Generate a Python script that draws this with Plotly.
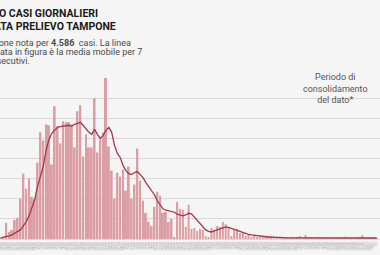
import plotly.graph_objects as go
import pandas as pd

# ---- data ----
dates = pd.date_range("2020-02-24", periods=133, freq="D")
date_labels = [d.strftime("%d/%m") for d in dates]

daily_cases = [
    3, 10, 80, 35, 45, 95, 105, 200, 325, 250,
    300, 210, 200, 380, 530, 490, 570, 565, 370, 660,
    560, 475, 585, 580, 580, 570, 455, 635, 665, 410,
    520, 455, 455, 700, 430, 495, 530, 800, 460, 340,
    200, 330, 310, 345, 240, 360, 200, 270, 450, 290,
    190, 130, 85, 65, 160, 235, 215, 130, 135, 85,
    100, 10, 185, 150, 145, 60, 170, 50, 55, 40,
    50, 45, 15, 10, 55, 45, 65, 60, 85, 75,
    55, 15, 45, 50, 30, 30, 15, 20, 10, 20,
    10, 15, 5, 8, 5, 8, 4, 6, 3, 5,
    6, 4, 7, 3, 5, 15, 4, 20, 6, 5,
    3, 4, 6, 3, 4, 5, 2, 4, 3, 5,
    4, 12, 3, 4, 2, 3, 5, 18, 3, 2,
    4, 3, 2,
]

moving_avg = [
    5, 8, 10, 15, 20, 30, 38, 45, 65, 85,
    115, 155, 195, 260, 310, 360, 440, 495, 525, 540,
    555, 558, 560, 563, 565, 560, 570, 575, 580, 565,
    545, 530, 520, 545, 520, 500, 515, 540, 555, 530,
    465, 425, 405, 365, 340, 325, 320, 330, 335, 320,
    305, 280, 260, 240, 220, 190, 170, 150, 143, 140,
    138, 133, 123, 118, 115, 120, 128, 125, 110, 95,
    80, 60, 45, 38, 35, 40, 45, 50, 55, 60,
    58, 53, 48, 40, 35, 30, 25, 23, 20, 18,
    15, 15, 13, 10, 10, 10, 8, 8, 8, 6,
    6, 6, 6, 6, 7, 7, 8, 8, 8, 7,
    7, 6, 6, 5, 5, 5, 5, 5, 5, 5,
    6, 6, 6, 6, 5, 5, 5, 6, 6, 6,
    6, 5, 5,
]

title_lines = ["ANDAMENTO CASI GIORNALIERI", "PER DATA PRELIEVO TAMPONE"]
subtitle_lines = [
    "Data tampone nota per <b>4.586</b>  casi. La linea",
    "rappresentata in figura è la media mobile per 7",
    "giorni consecutivi.",
]
note_text = "Periodo di<br>consolidamento<br>del dato*"

# ---- figure ----
W, H = 380, 255
T, B = 78, 16
PH = H - T - B


def px_x(x):
    return x / W


def px_y(y):
    return (H - B - y) / PH


fig = go.Figure()
fig.add_trace(go.Bar(
    x=date_labels, y=daily_cases,
    marker=dict(color="#dc9ea5", line=dict(width=0)),
    hoverinfo="skip",
))
fig.add_trace(go.Scatter(
    x=date_labels, y=moving_avg, mode="lines",
    line=dict(color="#a8344b", width=1.3),
    hoverinfo="skip",
))

annotations = []
for text, xr, yc in zip(title_lines, [100, 118], [14, 26]):
    annotations.append(dict(
        text=f"<b>{text}</b>", xref="paper", yref="paper",
        x=px_x(xr), y=px_y(yc), xanchor="right", yanchor="middle",
        showarrow=False,
        font=dict(family="Roboto", size=10.5, color="#1a1a1a", weight=900),
    ))
for text, yc in zip(subtitle_lines, [43, 52, 61]):
    annotations.append(dict(
        text=text, xref="paper", yref="paper",
        x=px_x(-45), y=px_y(yc), xanchor="left", yanchor="middle",
        showarrow=False, align="left",
        font=dict(family="Roboto", size=9, color="#4a4a4a"),
    ))
annotations.append(dict(
    text=note_text, xref="paper", yref="paper",
    x=px_x(335), y=px_y(88), xanchor="center", yanchor="middle",
    showarrow=False, align="center",
    font=dict(family="Roboto", size=9, color="#555555"),
))

fig.update_layout(
    width=W, height=H,
    margin=dict(l=0, r=0, t=T, b=B, autoexpand=False),
    paper_bgcolor="#f5f5f5", plot_bgcolor="#f5f5f5",
    showlegend=False, bargap=0.3,
    annotations=annotations,
)
fig.update_xaxes(
    type="category", range=[-0.18, 133.15],
    tickmode="array", tickvals=date_labels, ticktext=date_labels,
    tickangle=-45, tickfont=dict(family="Roboto", size=4, color="#aaaaaa"),
    showgrid=False, zeroline=False, showline=False, ticks="",
    automargin=False,
)
fig.update_yaxes(
    range=[0, 800], dtick=100, showticklabels=False,
    showgrid=True, gridcolor="#d9d9d9", gridwidth=1,
    zeroline=True, zerolinecolor="#d9d9d9", zerolinewidth=1,
    automargin=False,
)

fig.write_html("out.html")
